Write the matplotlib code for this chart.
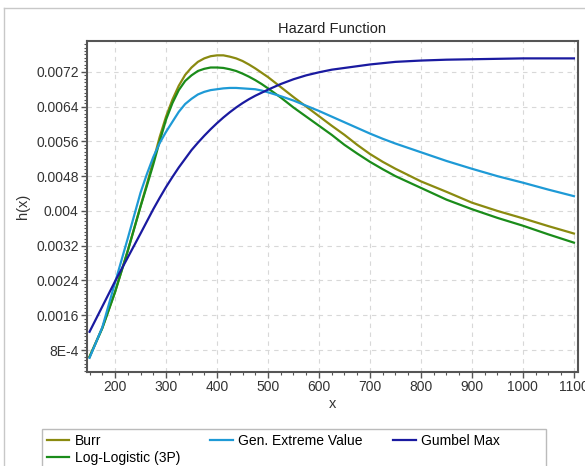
import matplotlib.pyplot as plt
from matplotlib.ticker import MultipleLocator, FixedLocator
from matplotlib.patches import Rectangle
from matplotlib.lines import Line2D

plt.rcParams['font.family'] = ['Liberation Sans', 'DejaVu Sans']

# valores
x = [150, 175, 200, 225, 250,
     262.5, 275, 287.5, 300, 312.5, 325, 337.5, 350, 362.5, 375, 387.5, 400,
     412.5, 425, 437.5, 450, 462.5, 475, 487.5, 500,
     525, 550, 575, 600, 625, 650, 675, 700, 725, 750,
     800, 850, 900, 950, 1000, 1050, 1100]

burr = [0.00065, 0.00131, 0.00214, 0.00309, 0.00411,
        0.00462, 0.00515, 0.00570, 0.00617, 0.00656, 0.00688, 0.00713, 0.00730, 0.00743, 0.00751, 0.00756, 0.00758,
        0.00758, 0.00755, 0.00751, 0.00745, 0.00737, 0.00728, 0.00718, 0.00708,
        0.00685, 0.00662, 0.00640, 0.00618, 0.00596, 0.00575, 0.00552, 0.00531, 0.00513, 0.00497,
        0.00468, 0.00444, 0.00419, 0.00400, 0.00383, 0.00365, 0.00348]

log_logistic = [0.00064, 0.00130, 0.00213, 0.00308, 0.00410,
                0.00458, 0.00507, 0.00560, 0.00610, 0.00648, 0.00678, 0.00699, 0.00712, 0.00722, 0.00727, 0.00730, 0.00730,
                0.00729, 0.00726, 0.00722, 0.00716, 0.00709, 0.00701, 0.00692, 0.00682,
                0.00661, 0.00638, 0.00617, 0.00596, 0.00575, 0.00552, 0.00532, 0.00513, 0.00496, 0.00480,
                0.00453, 0.00426, 0.00404, 0.00384, 0.00366, 0.00346, 0.00327]

gev = [0.00062, 0.00132, 0.00235, 0.00337, 0.00442,
       0.00485, 0.00524, 0.00556, 0.00582, 0.00605, 0.00628, 0.00646, 0.00658, 0.00668, 0.00674, 0.00678, 0.00680,
       0.00682, 0.00683, 0.00683, 0.00682, 0.00681, 0.00680, 0.00677, 0.00673,
       0.00664, 0.00654, 0.00642, 0.00630, 0.00617, 0.00604, 0.00591, 0.00578, 0.00566, 0.00555,
       0.00535, 0.00515, 0.00497, 0.00480, 0.00465, 0.00449, 0.00434]

gumbel = [0.00122, 0.00180, 0.00238, 0.00293, 0.00348,
          0.00376, 0.00404, 0.00430, 0.00455, 0.00478, 0.00500, 0.00520, 0.00540, 0.00557, 0.00573, 0.00588, 0.00602,
          0.00615, 0.00627, 0.00638, 0.00648, 0.00657, 0.00665, 0.00672, 0.00679,
          0.00692, 0.00703, 0.00712, 0.00719, 0.00725, 0.00729, 0.00733, 0.00737, 0.00740, 0.00743,
          0.00746, 0.00748, 0.00749, 0.00750, 0.00751, 0.00751, 0.00751]

y_ticks = [0.0008, 0.0016, 0.0024, 0.0032, 0.0040, 0.0048, 0.0056, 0.0064, 0.0072]
y_labels = ['8E-4', '0.0016', '0.0024', '0.0032', '0.004', '0.0048', '0.0056', '0.0064', '0.0072']
x_ticks = [200, 300, 400, 500, 600, 700, 800, 900, 1000, 1100]

W, H = 585, 466
fig = plt.figure(figsize=(W / 100, H / 100), dpi=100)
ax = fig.add_axes([87 / W, 1 - 372 / H, (578 - 87) / W, (372 - 41) / H])

ax.plot(x, burr, color='#8a8a10', lw=1.6, label='Burr')
ax.plot(x, log_logistic, color='#1a8c1a', lw=1.6, label='Log-Logistic (3P)')
ax.plot(x, gev, color='#1e9ad6', lw=1.6, label='Gen. Extreme Value')
ax.plot(x, gumbel, color='#1a1aa0', lw=1.6, label='Gumbel Max')

ax.set_xlim(145, 1108)
ax.set_ylim(0.000294, 0.00791)
ax.xaxis.set_major_locator(FixedLocator(x_ticks))
ax.xaxis.set_minor_locator(MultipleLocator(25))
ax.yaxis.set_major_locator(FixedLocator(y_ticks))
ax.yaxis.set_minor_locator(MultipleLocator(0.00008))
ax.set_yticklabels(y_labels)

ax.grid(True, which='major', color='#d8d8d8', linestyle=(0, (4, 4)), lw=0.8)
ax.tick_params(which='major', direction='out', length=4, width=1, color='#555555',
               labelsize=10, labelcolor='#333333', pad=2)
ax.tick_params(which='minor', direction='out', length=2, width=0.8, color='#555555')
for s in ax.spines.values():
    s.set_color('#555555')
    s.set_linewidth(1.5)

ax.set_title('Hazard Function', fontsize=10.5, color='#222222', pad=6)
ax.set_xlabel('x', fontsize=10.5, color='#333333', labelpad=2)
ax.set_ylabel('h(x)', fontsize=10.5, color='#333333', labelpad=4)

# moldura externa
fig.add_artist(Line2D([4 / W, 1], [1 - 8 / H, 1 - 8 / H], color='#c8c8c8', lw=1))
fig.add_artist(Line2D([4 / W, 4 / W], [0, 1 - 8 / H], color='#c8c8c8', lw=1))

# legenda
fig.add_artist(Rectangle((42 / W, -0.05), (546 - 42) / W, 0.05 + 1 - 429 / H,
                         transform=fig.transFigure, fill=False, edgecolor='#bbbbbb', lw=1))
fig.legend(loc='upper left', bbox_to_anchor=(44 / W, 1 - 431 / H), ncol=3, frameon=False,
           fontsize=10, handlelength=1.6, handletextpad=0.4, columnspacing=2.2,
           borderaxespad=0, labelspacing=0.2, borderpad=0.2)

plt.savefig('out.png', dpi=100)
